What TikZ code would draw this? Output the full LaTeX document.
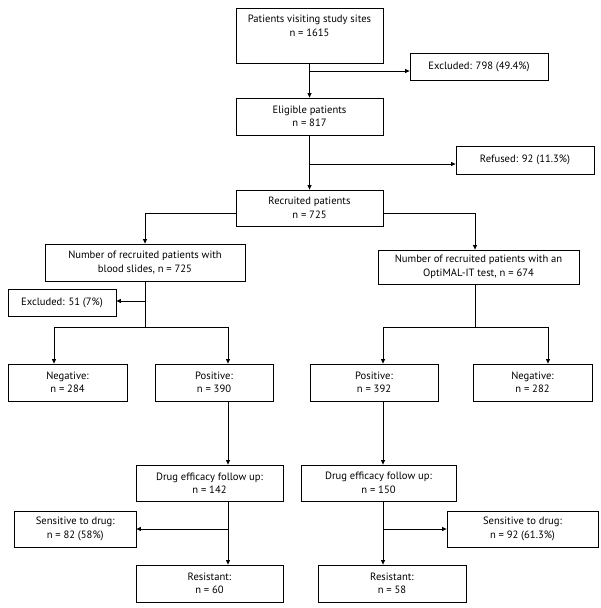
\documentclass[tikz,border=0pt]{standalone}
\usepackage{fontspec}
\setmainfont{PT Sans}
\usetikzlibrary{arrows.meta}
\tikzset{
  box/.style={draw, line width=0.8pt, inner sep=0pt, align=center, font=\fontsize{10.6}{13.5}\selectfont},
  plain/.style={inner sep=0pt, align=center, font=\fontsize{10.6}{13.5}\selectfont},
  ln/.style={line width=0.8pt},
  arr/.style={line width=0.8pt, -{Triangle[length=4.5pt,width=4pt]}}
}
\begin{document}
\begin{tikzpicture}[x=1pt,y=-1pt]
\useasboundingbox (0,0) rectangle (600,608);
% boxes
\node[box, minimum width=147, minimum height=55] (b1) at (309.5,35.5) {};
\node[plain] (b1t) at (309.5,26) {Patients visiting study sites\\n = 1615};
\node[box, minimum width=138, minimum height=27] (exc1) at (479,66.5) {Excluded: 798 (49.4\%)};
\node[box, minimum width=147, minimum height=37] (elig) at (309.5,116.5) {Eligible patients\\n = 817};
\node[box, minimum width=138, minimum height=28] (ref) at (525,160) {Refused: 92 (11.3\%)};
\node[box, minimum width=147, minimum height=36] (rec) at (309.5,208) {Recruited patients\\n = 725};
\node[box, minimum width=200, minimum height=37] (blood) at (145,262.5) {Number of recruited patients with\\blood slides, n = 725};
\node[box, minimum width=201, minimum height=34] (opt) at (478.5,267) {Number of recruited patients with an\\OptiMAL-IT test, n = 674};
\node[box, minimum width=108, minimum height=27] (exc2) at (62,302.5) {Excluded: 51 (7\%)};
\node[box, minimum width=119, minimum height=37] (neg1) at (67.5,382.5) {Negative:\\n = 284};
\node[box, minimum width=118, minimum height=37] (pos1) at (214,382.5) {Positive:\\n = 390};
\node[box, minimum width=128, minimum height=37] (pos2) at (374,382.5) {Positive:\\n = 392};
\node[box, minimum width=119, minimum height=37] (neg2) at (532.5,382.5) {Negative:\\n = 282};
\node[box, minimum width=147, minimum height=36] (drug1) at (209.5,483) {Drug efficacy follow up:\\n = 142};
\node[box, minimum width=155, minimum height=36] (drug2) at (378.5,483) {Drug efficacy follow up:\\n = 150};
\node[box, minimum width=121.5, minimum height=36] (sens1) at (75.25,529) {Sensitive to drug:\\n = 82 (58\%)};
\node[box, minimum width=151, minimum height=36] (sens2) at (522.5,529) {Sensitive to drug:\\n = 92 (61.3\%)};
\node[box, minimum width=147, minimum height=37] (res1) at (209.5,583.5) {Resistant:\\n = 60};
\node[box, minimum width=148, minimum height=37] (res2) at (392,583.5) {Resistant:\\n = 58};
% junction coordinates
\coordinate (j1) at (309.5,71);
\coordinate (j2) at (309.5,164);
\coordinate (j3) at (145,213);
\coordinate (j4) at (475,213);
\coordinate (e2) at (145,301);
\coordinate (s1) at (145,327);
\coordinate (s1l) at (54,327);
\coordinate (s1r) at (228,327);
\coordinate (s2) at (475,327);
\coordinate (s2l) at (383,327);
\coordinate (s2r) at (548,327);
\coordinate (d1) at (228,529);
\coordinate (d2) at (383,529);
% connectors
\draw[arr] (b1.south) -- (elig.north);
\draw[arr] (j1) -- (j1 -| exc1.west);
\draw[arr] (elig.south) -- (rec.north);
\draw[arr] (j2) -- (j2 -| ref.west);
\draw[arr] (j3 -| rec.west) -- (j3) -- (blood.north);
\draw[arr] (j4 -| rec.east) -- (j4) -- (j4 |- opt.north);
\draw[ln] (blood.south) -- (s1);
\draw[arr] (e2) -- (e2 -| exc2.east);
\draw[ln] (s1l) -- (s1r);
\draw[arr] (s1l) -- (s1l |- neg1.north);
\draw[arr] (s1r) -- (s1r |- pos1.north);
\draw[ln] (s2 |- opt.south) -- (s2);
\draw[ln] (s2l) -- (s2r);
\draw[arr] (s2l) -- (s2l |- pos2.north);
\draw[arr] (s2r) -- (s2r |- neg2.north);
\draw[arr] (s1r |- pos1.south) -- (s1r |- drug1.north);
\draw[arr] (s2l |- pos2.south) -- (s2l |- drug2.north);
\draw[arr] (d1 |- drug1.south) -- (d1 |- res1.north);
\draw[arr] (d1) -- (d1 -| sens1.east);
\draw[arr] (d2 |- drug2.south) -- (d2 |- res2.north);
\draw[arr] (d2) -- (d2 -| sens2.west);
\end{tikzpicture}
\end{document}
